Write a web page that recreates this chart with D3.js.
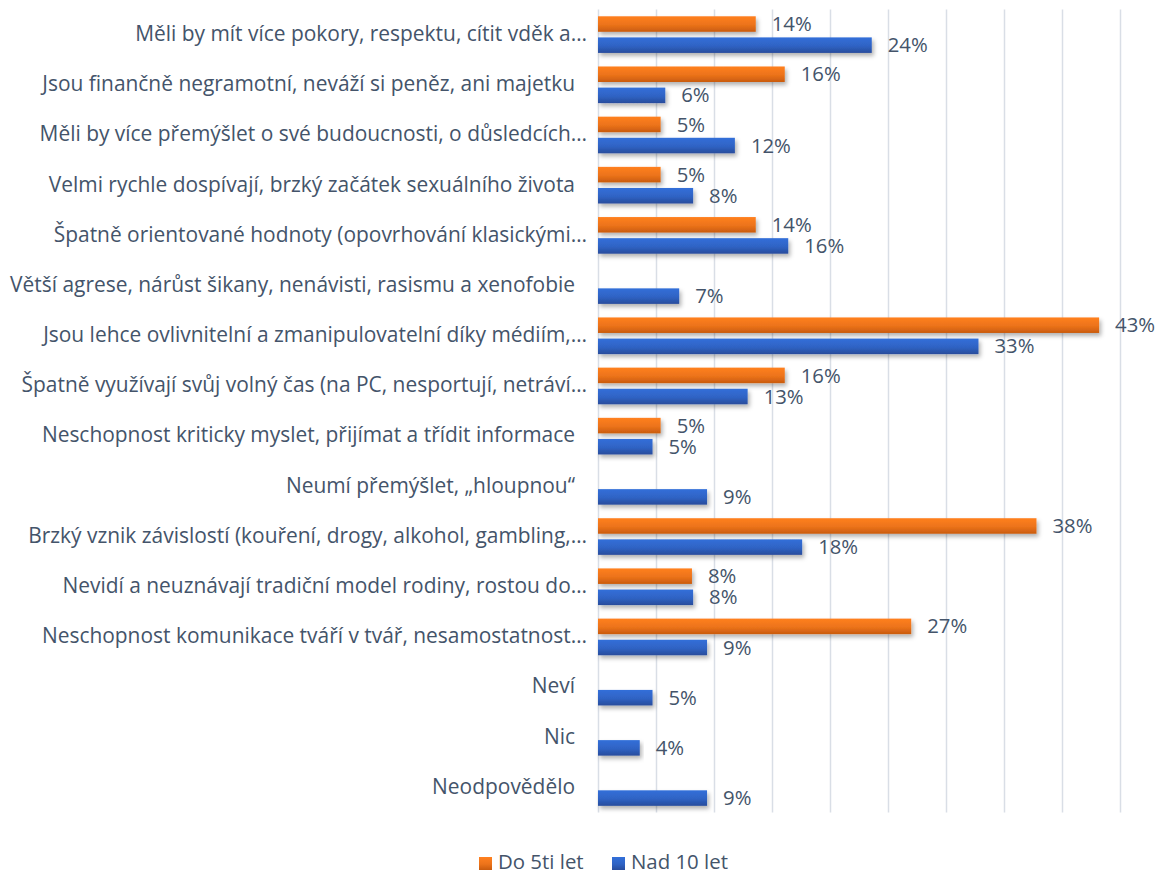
<!DOCTYPE html>
<html>
<head>
<meta charset="utf-8">
<script src="https://cdn.jsdelivr.net/npm/d3@7/dist/d3.min.js"></script>
<style>
  html, body { margin: 0; padding: 0; background: #fff; }
  svg { display: block; }
  text { font-family: "Open Sans", "Noto Sans", sans-serif; fill: #44546a; }
</style>
</head>
<body>
<svg id="chart" width="1158" height="873"></svg>
<script>
const categories = [
  "Měli by mít více pokory, respektu, cítit vděk a…",
  "Jsou finančně negramotní, neváží si peněz, ani majetku",
  "Měli by více přemýšlet o své budoucnosti, o důsledcích…",
  "Velmi rychle dospívají, brzký začátek sexuálního života",
  "Špatně orientované hodnoty (opovrhování klasickými…",
  "Větší agrese, nárůst šikany, nenávisti, rasismu a xenofobie",
  "Jsou lehce ovlivnitelní a zmanipulovatelní díky médiím,…",
  "Špatně využívají svůj volný čas (na PC, nesportují, netráví…",
  "Neschopnost kriticky myslet, přijímat a třídit informace",
  "Neumí přemýšlet, „hloupnou“",
  "Brzký vznik závislostí (kouření, drogy, alkohol, gambling,…",
  "Nevidí a neuznávají tradiční model rodiny, rostou do…",
  "Neschopnost komunikace tváří v tvář, nesamostatnost…",
  "Neví",
  "Nic",
  "Neodpovědělo"
];
const seriesNames = ["Do 5ti let", "Nad 10 let"];
const do5tiLet = [13.6, 16.1, 5.4, 5.4, 13.6, null, 43.2, 16.1, 5.4, null, 37.8, 8.1, 27.0, null, null, null];
const nad10Let = [23.6, 5.8, 11.8, 8.2, 16.4, 7.0, 32.8, 12.9, 4.7, 9.4, 17.6, 8.2, 9.4, 4.7, 3.6, 9.4];
const xTicks = [0, 5, 10, 15, 20, 25, 30, 35, 40, 45];

const FONT = "'Open Sans', 'Noto Sans', sans-serif";
const svg = d3.select("#chart");
const plot = { left: 598, top: 9.5, bottom: 812.6 };

// font size that makes a string reach a given width
function fitSize(str, target) {
  const t = svg.append("text").attr("font-family", FONT).attr("font-size", 100).text(str);
  const w = t.node().getComputedTextLength();
  t.remove();
  return 100 * target / w;
}
const catSize = fitSize(categories[0], 452);
const valSize = fitSize("24%", 40);
const legSize = fitSize(seriesNames[1], 97);

const x = d3.scaleLinear().domain([0, 45]).range([plot.left, plot.left + 45 * 11.6]);
const y0 = d3.scaleBand().domain(categories.map((c, i) => i))
  .range([plot.top, plot.bottom]).paddingInner(0.27).paddingOuter(0.135);
const y1 = d3.scaleBand().domain(seriesNames).range([0, y0.bandwidth()]).paddingInner(0.265);

const defs = svg.append("defs");
const grads = [
  { id: "gOrange", top: "#ff8020", bottom: "#c95b0e" },
  { id: "gBlue", top: "#326fd9", bottom: "#284c9c" }
];
grads.forEach(g => {
  const lg = defs.append("linearGradient").attr("id", g.id)
    .attr("x1", 0).attr("y1", 0).attr("x2", 0).attr("y2", 1);
  lg.append("stop").attr("offset", "0%").attr("stop-color", g.top);
  lg.append("stop").attr("offset", "55%").attr("stop-color", d3.interpolateRgb(g.top, g.bottom)(0.35));
  lg.append("stop").attr("offset", "100%").attr("stop-color", g.bottom);
});
const f = defs.append("filter").attr("id", "shadow")
  .attr("x", "-5%").attr("y", "-30%").attr("width", "115%").attr("height", "180%");
f.append("feDropShadow").attr("dx", 2).attr("dy", 3).attr("stdDeviation", 2)
  .attr("flood-color", "#000").attr("flood-opacity", 0.3);

const color = d3.scaleOrdinal().domain(seriesNames).range(["url(#gOrange)", "url(#gBlue)"]);

// gridlines
const xAxis = d3.axisBottom(x).tickValues(xTicks).tickSize(-(plot.bottom - plot.top)).tickFormat("");
const gx = svg.append("g").attr("transform", `translate(0,${plot.bottom})`).call(xAxis);
gx.select(".domain").remove();
gx.selectAll(".tick line").attr("stroke", "#d9dee6").attr("stroke-width", 1.5);

// category labels (truncated labels end further right, as in the source)
const yLab = d3.scaleBand().domain(categories.map((c, i) => i)).range([plot.top, plot.bottom]);
svg.append("g").selectAll("text").data(categories).join("text")
  .attr("x", d => d.endsWith("…") ? 587 : 575)
  .attr("y", (d, i) => yLab(i) + yLab.bandwidth() / 2 - 1)
  .attr("dy", "0.35em")
  .attr("text-anchor", "end")
  .attr("font-size", catSize)
  .text(d => d);

const rows = categories.map((c, i) => ({ i, values: [
  { s: seriesNames[0], v: do5tiLet[i] },
  { s: seriesNames[1], v: nad10Let[i] }
].filter(d => d.v != null) }));

const groups = svg.append("g").selectAll("g").data(rows).join("g")
  .attr("transform", d => `translate(0,${y0(d.i)})`);

groups.selectAll("rect").data(d => d.values).join("rect")
  .attr("x", x(0))
  .attr("y", d => y1(d.s))
  .attr("width", d => x(d.v) - x(0))
  .attr("height", y1.bandwidth())
  .attr("fill", d => color(d.s))
  .attr("filter", "url(#shadow)");

groups.selectAll("text").data(d => d.values).join("text")
  .attr("x", d => x(d.v) + 16)
  .attr("y", d => y1(d.s) + y1.bandwidth() / 2)
  .attr("dy", "0.35em")
  .attr("font-size", valSize)
  .text(d => Math.round(d.v) + "%");

// legend
const legendItems = [
  { s: seriesNames[0], x: 479 },
  { s: seriesNames[1], x: 612 }
];
const lg = svg.append("g");
lg.selectAll("rect").data(legendItems).join("rect")
  .attr("x", d => d.x).attr("y", 857).attr("width", 13).attr("height", 13)
  .attr("fill", d => color(d.s));
lg.selectAll("text").data(legendItems).join("text")
  .attr("x", d => d.x + 19).attr("y", 862).attr("dy", "0.35em")
  .attr("font-size", legSize).text(d => d.s);
</script>
</body>
</html>
